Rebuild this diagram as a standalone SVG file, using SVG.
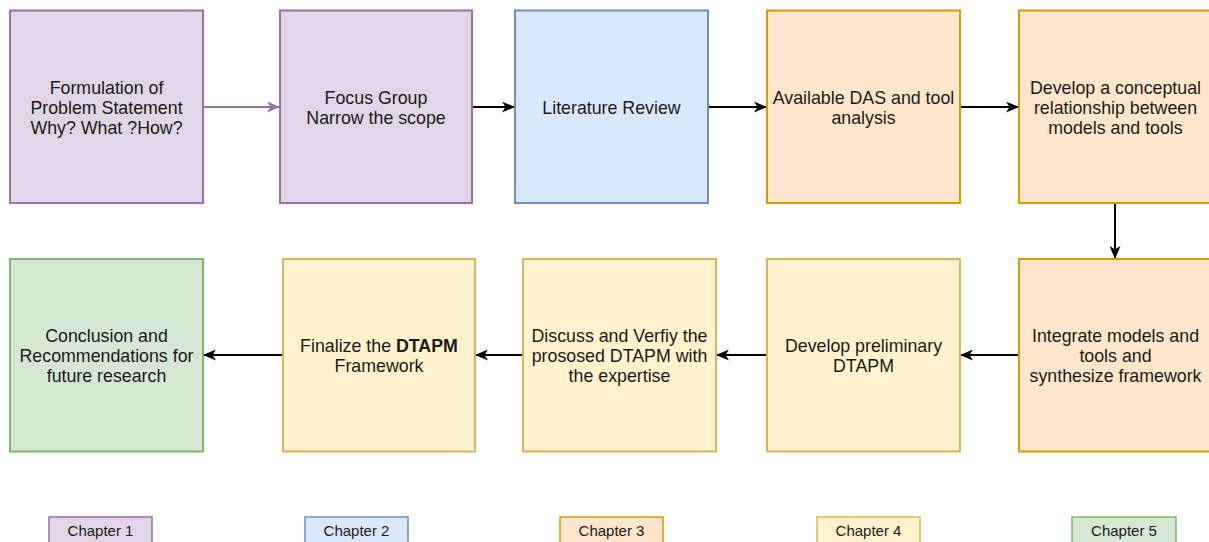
<svg xmlns="http://www.w3.org/2000/svg" width="1209" height="542" viewBox="0 0 1209 542">
  <style>
    text { font-family: "Liberation Sans", Arial, Helvetica, sans-serif; fill: #1a1a1a; text-anchor: middle; }
    .lbl { font-size: 17.8px; }
    .chap { font-size: 15px; }
    .box { stroke-width: 2; }
    .tag { stroke-width: 1.5; }
    .purple { fill: #e1d5e7; stroke: #9673a6; }
    .blue { fill: #dae8fc; stroke: #6c8ebf; }
    .orange { fill: #ffe6cc; stroke: #d79b00; }
    .yellow { fill: #fff2cc; stroke: #d6b656; }
    .green { fill: #d5e8d4; stroke: #82b366; }
    .edge { fill: none; stroke: #000; stroke-width: 2; }
    .edge.violet { stroke: #9673a6; }
  </style>
  <defs>
    <marker id="arrow" viewBox="0 0 13 11" refX="12" refY="5.5" markerWidth="13" markerHeight="11" markerUnits="userSpaceOnUse" orient="auto">
      <path d="M0,0 L13,5.5 L0,11 L3.5,5.5 Z" fill="#000"/>
    </marker>
    <marker id="arrow-violet" viewBox="0 0 13 11" refX="12" refY="5.5" markerWidth="13" markerHeight="11" markerUnits="userSpaceOnUse" orient="auto">
      <path d="M0,0 L13,5.5 L0,11 L3.5,5.5 Z" fill="#9673a6"/>
    </marker>
  </defs>

  <rect width="1209" height="542" fill="#ffffff"/>

  <!-- connectors -->
  <g id="connectors">
    <path class="edge violet" d="M203,107 L279,107" marker-end="url(#arrow-violet)"/>
    <path class="edge" d="M472,107 L514,107" marker-end="url(#arrow)"/>
    <path class="edge" d="M708,107 L766,107" marker-end="url(#arrow)"/>
    <path class="edge" d="M960,107 L1018,107" marker-end="url(#arrow)"/>
    <path class="edge" d="M1115,203 L1115,258" marker-end="url(#arrow)"/>
    <path class="edge" d="M1019,355 L961,355" marker-end="url(#arrow)"/>
    <path class="edge" d="M767,355 L717,355" marker-end="url(#arrow)"/>
    <path class="edge" d="M523,355 L476,355" marker-end="url(#arrow)"/>
    <path class="edge" d="M282,355 L204,355" marker-end="url(#arrow)"/>
  </g>

  <!-- top row -->
  <g id="problem-statement">
    <rect class="box purple" x="10" y="10.5" width="193" height="192.5"/>
    <text class="lbl" x="106.5" y="94">Formulation of</text>
    <text class="lbl" x="106.5" y="114">Problem Statement</text>
    <text class="lbl" x="106.5" y="134">Why? What ?How?</text>
  </g>
  <g id="focus-group">
    <rect class="box purple" x="280" y="10.5" width="192" height="192.5"/>
    <text class="lbl" x="376" y="104">Focus Group</text>
    <text class="lbl" x="376" y="124">Narrow the scope</text>
  </g>
  <g id="literature-review">
    <rect class="box blue" x="515" y="10.5" width="193" height="192.5"/>
    <text class="lbl" x="611.5" y="114">Literature Review</text>
  </g>
  <g id="das-analysis">
    <rect class="box orange" x="767" y="10.5" width="193" height="192.5"/>
    <text class="lbl" x="863.5" y="104">Available DAS and tool</text>
    <text class="lbl" x="863.5" y="124">analysis</text>
  </g>
  <g id="conceptual-relationship">
    <rect class="box orange" x="1019" y="10.5" width="193" height="192.5"/>
    <text class="lbl" x="1115.5" y="94">Develop a conceptual</text>
    <text class="lbl" x="1115.5" y="114">relationship between</text>
    <text class="lbl" x="1115.5" y="134">models and tools</text>
  </g>

  <!-- bottom row -->
  <g id="conclusion">
    <rect class="box green" x="10" y="259" width="193" height="192.5"/>
    <text class="lbl" x="106.5" y="342">Conclusion and</text>
    <text class="lbl" x="106.5" y="362">Recommendations for</text>
    <text class="lbl" x="106.5" y="382">future research</text>
  </g>
  <g id="finalize">
    <rect class="box yellow" x="283" y="259" width="192" height="192.5"/>
    <text class="lbl" x="379" y="352">Finalize the <tspan font-weight="bold">DTAPM</tspan></text>
    <text class="lbl" x="379" y="372">Framework</text>
  </g>
  <g id="discuss-verify">
    <rect class="box yellow" x="523" y="259" width="193" height="192.5"/>
    <text class="lbl" x="619.5" y="342">Discuss and Verfiy the</text>
    <text class="lbl" x="619.5" y="362">prososed DTAPM with</text>
    <text class="lbl" x="619.5" y="382">the expertise</text>
  </g>
  <g id="preliminary">
    <rect class="box yellow" x="767" y="259" width="193" height="192.5"/>
    <text class="lbl" x="863.5" y="352">Develop preliminary</text>
    <text class="lbl" x="863.5" y="372">DTAPM</text>
  </g>
  <g id="integrate">
    <rect class="box orange" x="1019" y="259" width="193" height="192.5"/>
    <text class="lbl" x="1115.5" y="342">Integrate models and</text>
    <text class="lbl" x="1115.5" y="362">tools and</text>
    <text class="lbl" x="1115.5" y="382">synthesize framework</text>
  </g>

  <!-- chapter legend -->
  <g id="chapter-1">
    <rect class="tag purple" x="49" y="517" width="103" height="30"/>
    <text class="chap" x="100.5" y="536">Chapter 1</text>
  </g>
  <g id="chapter-2">
    <rect class="tag blue" x="305" y="517" width="103" height="30"/>
    <text class="chap" x="356.5" y="536">Chapter 2</text>
  </g>
  <g id="chapter-3">
    <rect class="tag orange" x="560" y="517" width="103" height="30"/>
    <text class="chap" x="611.5" y="536">Chapter 3</text>
  </g>
  <g id="chapter-4">
    <rect class="tag yellow" x="817" y="517" width="103" height="30"/>
    <text class="chap" x="868.5" y="536">Chapter 4</text>
  </g>
  <g id="chapter-5">
    <rect class="tag green" x="1072" y="517" width="104" height="30"/>
    <text class="chap" x="1124" y="536">Chapter 5</text>
  </g>
</svg>
